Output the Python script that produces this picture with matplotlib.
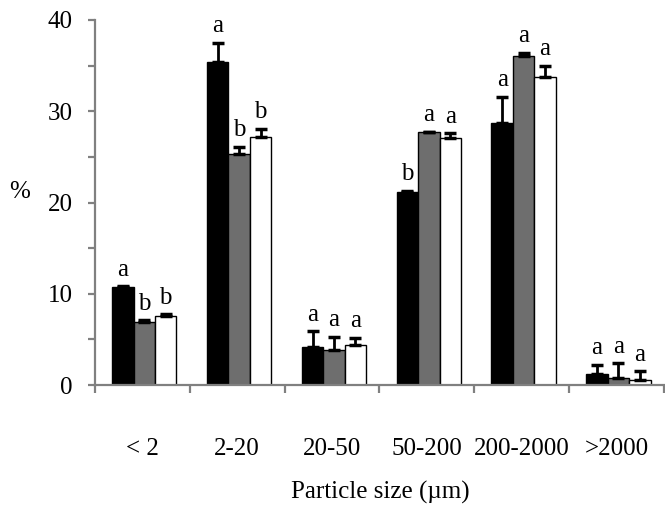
import numpy as np
import matplotlib
matplotlib.use("Agg")
import matplotlib.pyplot as plt
from matplotlib.ticker import MultipleLocator, NullFormatter, FixedLocator

plt.rcParams['font.family'] = ['Liberation Serif', 'DejaVu Serif']

# particle size classes and the three treatments
sizes = ["< 2", "2-20", "20-50", "50-200", "200-2000", ">2000"]
black_vals = [10.7, 35.4, 4.2, 21.2, 28.7, 1.2]
gray_vals = [6.9, 25.3, 3.8, 27.7, 36.1, 0.8]
white_vals = [7.6, 27.2, 4.4, 27.1, 33.7, 0.5]
black_err = [0.1, 2.1, 1.7, 0.1, 2.9, 1.0]
gray_err = [0.2, 0.8, 1.5, 0.05, 0.3, 1.6]
white_err = [0.15, 0.9, 0.8, 0.5, 1.3, 1.0]
black_let = ["a", "a", "a", "b", "a", "a"]
gray_let = ["b", "b", "a", "a", "a", "a"]
white_let = ["b", "b", "a", "a", "a", "a"]

fig = plt.figure(figsize=(6.65, 5.09), dpi=100)
ax = fig.add_axes([95/665, 1-385/509, 569/665, 365/509])

x = np.arange(len(sizes))
w = 0.226
series = [(black_vals, black_err, black_let, "black", -w),
          (gray_vals, gray_err, gray_let, "#6e6e6e", 0.0),
          (white_vals, white_err, white_let, "white", w)]

for vals, err, lets, col, off in series:
    xs = x + off + 0.02
    ax.bar(xs, vals, width=w, color=col, edgecolor="black", linewidth=1.0, zorder=2)
    ax.errorbar(xs, vals, yerr=[np.zeros(len(vals)), err], fmt="none",
                ecolor="black", elinewidth=2, capsize=4.5, capthick=2.5, zorder=3)
    for xi, v, e, l in zip(xs, vals, err, lets):
        ax.annotate(l, (xi, v + e), xytext=(0, 4), textcoords="offset points",
                    ha="center", va="bottom", fontsize=18)

ax.set_xlim(-0.5, 5.5)
ax.set_ylim(0, 40)

for s in ["top", "right"]:
    ax.spines[s].set_visible(False)
for s in ["left", "bottom"]:
    ax.spines[s].set_color("#808080")
    ax.spines[s].set_linewidth(1.6)

# y axis: ticks every 5, labels every 10
ax.yaxis.set_major_locator(MultipleLocator(10))
ax.yaxis.set_minor_locator(MultipleLocator(5))
ax.tick_params(axis="y", which="both", direction="out", length=5, width=1.6,
               color="#808080", labelsize=18, pad=11)

# x axis: labels at centres, ticks at group boundaries
ax.set_xticks(x)
ax.set_xticklabels(sizes)
ax.xaxis.set_minor_locator(FixedLocator(np.arange(-0.5, 6.0, 1.0)))
ax.xaxis.set_minor_formatter(NullFormatter())
ax.tick_params(axis="x", which="major", length=0, labelsize=18, pad=38)
ax.tick_params(axis="x", which="minor", direction="out", length=6, width=1.6,
               color="#808080")

fig.text(20/665, 1-192/509, "%", fontsize=18, ha="center", va="center")
fig.text(380/665, 1-492/509, "Particle size (\u00b5m)", fontsize=18,
         ha="center", va="center")

fig.savefig("out.png", dpi=100)
